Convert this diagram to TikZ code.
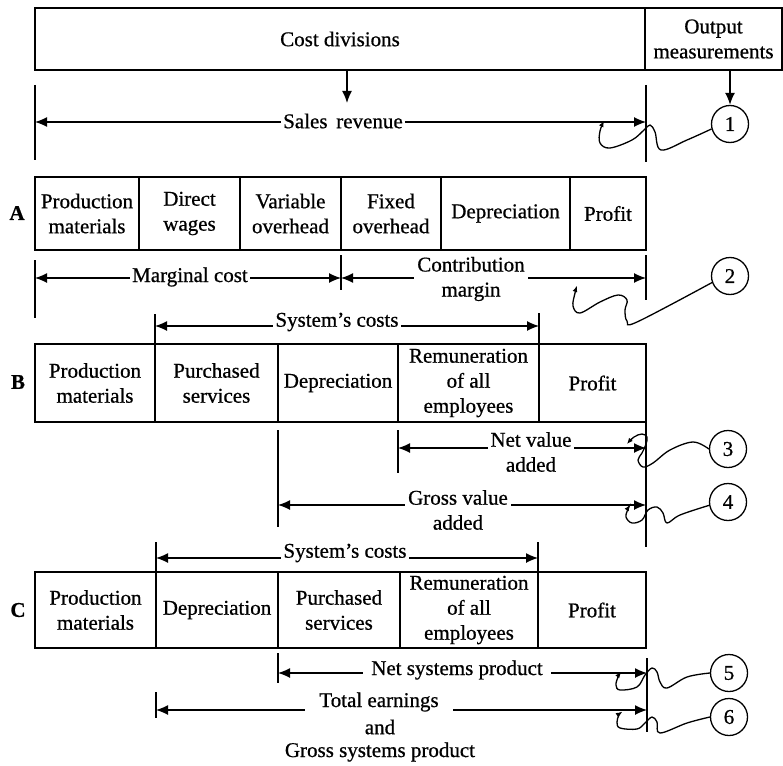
\documentclass[tikz,border=0pt]{standalone}
\usepackage{fontspec}
\setmainfont{Liberation Serif}[FakeBold=0.7]
\usetikzlibrary{arrows.meta}
\begin{document}
\begin{tikzpicture}[x=1pt,y=-1pt,
  every node/.style={font=\fontsize{21}{25}\selectfont, inner sep=0pt, align=center},
  cellbox/.style={draw, line width=1.6pt, inner sep=0pt},
  rowlabel/.style={font=\fontsize{21}{25}\selectfont\bfseries},
  dimline/.style={line width=1.3pt, {Latex[length=12pt,width=10pt]}-{Latex[length=12pt,width=10pt]}},
  downarrow/.style={line width=1.5pt, -{Latex[length=12pt,width=10pt]}},
  tick/.style={line width=1.1pt},
  dimlabel/.style={fill=white, inner xsep=2pt, inner ysep=1pt},
  num/.style={circle, draw, line width=1.3pt, minimum size=37pt},
  squiggle/.style={line width=1.3pt, -{Latex[length=6pt,width=5pt]}},
]
\useasboundingbox (0,0) rectangle (783,765);

% ---------- header ----------
\node[cellbox, minimum width=610pt, minimum height=62pt] (costdiv) at (340,39) {Cost divisions};
\node[cellbox, minimum width=137pt, minimum height=62pt] (outmeas) at (713.5,39) {Output\\measurements};

% ---------- output measurement circles ----------
\node[num] (c1) at (730,124) {1};
\node[num] (c2) at (730,276) {2};
\node[num] (c3) at (728,449) {3};
\node[num] (c4) at (728,502) {4};
\node[num] (c5) at (729,673) {5};
\node[num] (c6) at (729,717) {6};

\coordinate (cdtip) at (347,103);
\draw[downarrow] (cdtip |- costdiv.south) -- (cdtip);
\draw[downarrow] (c1.north |- outmeas.south) -- (c1.north);

% ---------- sales revenue ----------
\draw[tick] (35,85) -- (35,160);
\draw[tick] (646,85) -- (646,162);
\coordinate (srL) at (35,122);
\coordinate (srR) at (646,122);
\draw[dimline] (srL) -- (srR);
\node[dimlabel] (srlab) at (343,121) {Sales\, revenue};

% ---------- row A ----------
\node[rowlabel] (rA) at (17,213) {A};
\node[cellbox, minimum width=104pt, minimum height=73pt] (a1) at (87,213.5) {Production\\materials};
\node[cellbox, minimum width=101pt, minimum height=73pt] (a2) at (189.5,213.5) {Direct\\wages};
\node[cellbox, minimum width=101pt, minimum height=73pt] (a3) at (290.5,213.5) {Variable\\overhead};
\node[cellbox, minimum width=100pt, minimum height=73pt] (a4) at (391,213.5) {Fixed\\overhead};
\node[cellbox, minimum width=129pt, minimum height=73pt] (a5) at (505.5,213.5) {Depreciation};
\node[cellbox, minimum width=76pt, minimum height=73pt] (a6) at (608,213.5) {Profit};

\draw[tick] (35,260) -- (35,318);
\draw[tick] (341,255) -- (341,290);
\draw[tick] (646,255) -- (646,300);
\coordinate (mcL) at (35,278);
\coordinate (mcR) at (341,278);
\coordinate (cmR) at (646,278);
\draw[dimline] (mcL) -- (mcR);
\draw[dimline] (mcR) -- (cmR);
\node[dimlabel] (mclab) at (190,277) {Marginal cost};
\node[dimlabel, inner xsep=3pt] (cmlab) at (471,279) {Contribution\\margin};

% ---------- row B ----------
\draw[tick] (155,314) -- (155,344);
\draw[tick] (539,313) -- (539,344);
\coordinate (scbL) at (155,326);
\coordinate (scbR) at (539,326);
\draw[dimline] (scbL) -- (scbR);
\node[dimlabel] (scblab) at (337,322) {System's costs};

\node[rowlabel] (rB) at (18,382) {B};
\node[cellbox, minimum width=120pt, minimum height=78pt] (b1) at (95,383) {Production\\materials};
\node[cellbox, minimum width=123pt, minimum height=78pt] (b2) at (216.5,383) {Purchased\\services};
\node[cellbox, minimum width=120pt, minimum height=78pt] (b3) at (338,383) {Depreciation};
\node[cellbox, minimum width=141pt, minimum height=78pt] (b4) at (468.5,383) {Remuneration\\of all\\employees};
\node[cellbox, minimum width=107pt, minimum height=78pt] (b5) at (592.5,383) {Profit};

\draw[tick] (646,422) -- (646,547);
\draw[tick] (398,430) -- (398,473);
\draw[tick] (278,430) -- (278,527);
\coordinate (nvL) at (398,448);
\coordinate (nvR) at (646,448);
\draw[dimline] (nvL) -- (nvR);
\node[dimlabel] (nvlab) at (531,452) {Net value\\added};
\coordinate (gvL) at (278,505);
\coordinate (gvR) at (646,505);
\draw[dimline] (gvL) -- (gvR);
\node[dimlabel, inner xsep=3pt] (gvlab) at (458,510) {Gross value\\added};

% ---------- row C ----------
\draw[tick] (156,542) -- (156,572);
\draw[tick] (538,542) -- (538,572);
\coordinate (sccL) at (156,558);
\coordinate (sccR) at (538,558);
\draw[dimline] (sccL) -- (sccR);
\node[dimlabel] (scclab) at (345,553) {System's costs};

\node[rowlabel] (rC) at (18,610) {C};
\node[cellbox, minimum width=121pt, minimum height=76pt] (cc1) at (95.5,610) {Production\\materials};
\node[cellbox, minimum width=122pt, minimum height=76pt] (cc2) at (217,610) {Depreciation};
\node[cellbox, minimum width=122pt, minimum height=76pt] (cc3) at (339,610) {Purchased\\services};
\node[cellbox, minimum width=138pt, minimum height=76pt] (cc4) at (469,610) {Remuneration\\of all\\employees};
\node[cellbox, minimum width=108pt, minimum height=76pt] (cc5) at (592,610) {Profit};

\draw[tick] (647,658) -- (647,732);
\draw[tick] (278,653) -- (278,683);
\draw[tick] (156,692) -- (156,718);
\coordinate (nsL) at (278,673);
\coordinate (nsR) at (647,673);
\draw[dimline] (nsL) -- (nsR);
\node[dimlabel, inner xsep=8pt] (nslab) at (457,670) {Net systems product};
\coordinate (teL) at (156,710);
\coordinate (teR) at (647,710);
\draw[dimline] (teL) -- (teR);
\node[dimlabel, inner xsep=14pt, inner ysep=3pt] (telab) at (379,702) {Total earnings};
\node (andlab) at (380,727) {and};
\node (gslab) at (380,752) {Gross systems product};

% ---------- leader curves from the circles ----------
\draw[squiggle] plot[smooth, tension=0.6] coordinates {(c1.195) (687,140) (661,150) (655,132) (650,125) (644,130) (632,140) (610,148) (600,143) (600,131) (604,121)};
\draw[squiggle] plot[smooth, tension=0.6] coordinates {(c2.200) (637,322) (627,321) (625,310) (627,300) (618,295) (600,302) (580,313) (573,306) (575,293) (577,286)};
\draw[squiggle] plot[smooth, tension=0.6] coordinates {(c3.180) (693,442) (670,450) (653,463) (643,467) (638,460) (642,453) (646,444) (647,437) (642,434) (634,437) (627,444)};
\draw[squiggle] plot[smooth, tension=0.6] coordinates {(c4.190) (680,515) (667,523) (663,513) (657,507) (648,510) (642,520) (632,523) (626,517) (628,509) (630,505)};
\draw[squiggle] plot[smooth, tension=0.6] coordinates {(c5.180) (687,677) (667,688) (660,682) (657,672) (652,668) (645,675) (637,687) (620,690) (616,685) (618,677) (621,672)};
\draw[squiggle] plot[smooth, tension=0.6] coordinates {(c6.180) (687,723) (660,733) (657,722) (652,717) (645,723) (637,729) (620,728) (617,722) (619,715) (622,712)};
\end{tikzpicture}
\end{document}
